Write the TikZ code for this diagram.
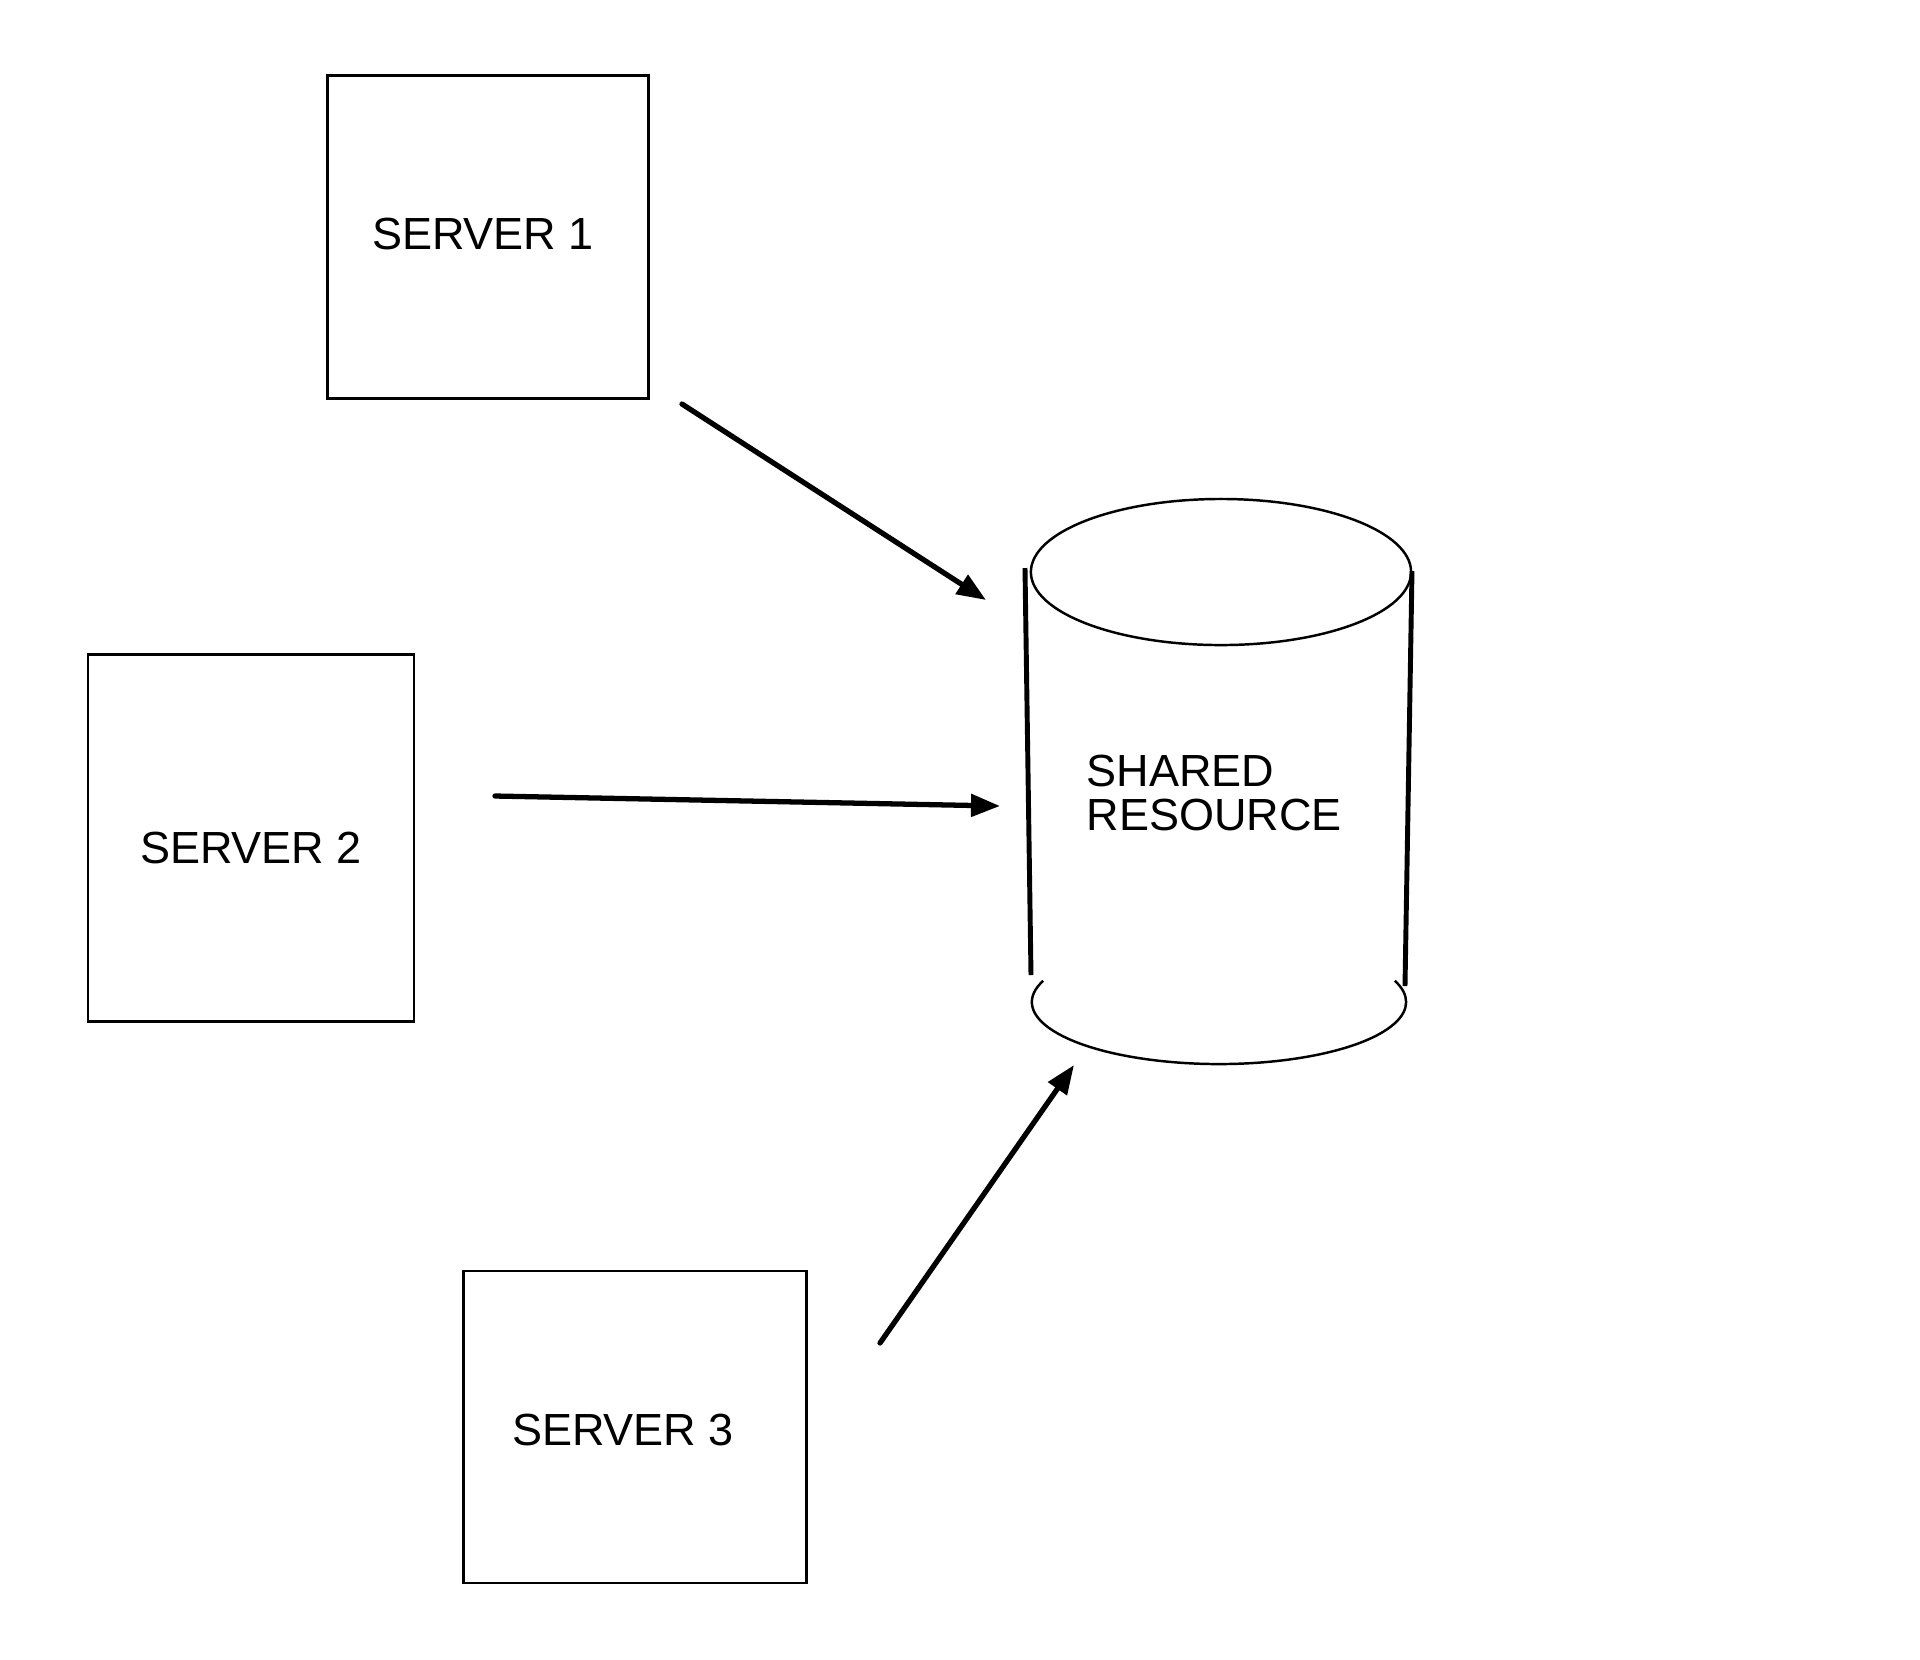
\documentclass[tikz,border=0pt]{standalone}
\usepackage{fontspec}
\setmainfont{Liberation Sans}
\usetikzlibrary{arrows.meta}
\begin{document}
\begin{tikzpicture}[x=0.01cm,y=-0.01cm,font=\fontsize{12.8}{12.5}\selectfont,
  server/.style={draw,line width=0.7pt,inner sep=0pt},
  link/.style={line width=1.5pt,line cap=round,-{Triangle[length=0.29cm,width=0.22cm]}}]
\useasboundingbox (0,0) rectangle (1920,1659);

\node[server,minimum width=3.21cm,minimum height=3.23cm,label={[xshift=-0.05cm,yshift=0.03cm]center:SERVER 1}] (s1) at (488,237) {};
\node[server,minimum width=3.26cm,minimum height=3.67cm,label={[yshift=-0.1cm]center:SERVER 2}] (s2) at (251,838) {};
\node[server,minimum width=3.43cm,minimum height=3.12cm,label={[xshift=-0.12cm,yshift=-0.03cm]center:SERVER 3}] (s3) at (635,1427) {};

\coordinate (top) at (1221,572);
\coordinate (bot) at (1219,1002);
\draw[line width=0.7pt] (top) ellipse[x radius=1.9cm,y radius=0.73cm];
\draw[line width=1.4pt] (1025,568) -- (1031,975);
\draw[line width=1.4pt] (1412,571) -- (1405,986);
\draw[line width=0.7pt] ([shift={(160:1.87cm and 0.62cm)}]bot) arc[start angle=160,end angle=380,x radius=1.87cm,y radius=0.62cm];
\node[align=left,anchor=north west,inner sep=0pt] (res) at (1086,754) {SHARED\\RESOURCE};

\coordinate (a1) at (682,404);
\coordinate (b1) at (986,600);
\coordinate (a2) at (495,796);
\coordinate (b2) at (1000,806);
\coordinate (a3) at (880,1343);
\coordinate (b3) at (1074,1065);

\path[draw,link] (a1) -- (b1);
\path[draw,link] (a2) -- (b2);
\path[draw,link] (a3) -- (b3);
\end{tikzpicture}
\end{document}
